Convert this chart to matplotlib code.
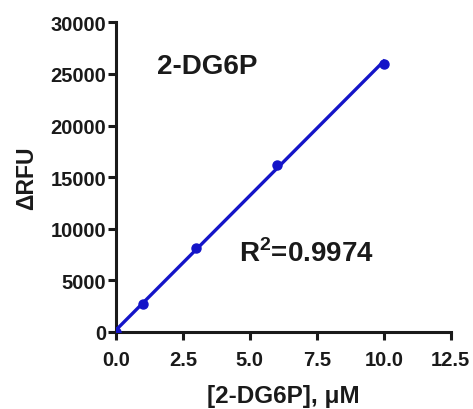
import numpy as np
import matplotlib
matplotlib.use("Agg")
from matplotlib import pyplot as plt

# data
conc = [0, 1, 3, 6, 10]
drfu = [0, 2700, 8150, 16150, 26000]
x_ticks = [0.0, 2.5, 5.0, 7.5, 10.0, 12.5]
y_ticks = [0, 5000, 10000, 15000, 20000, 25000, 30000]

plt.rcParams['font.family'] = ['Liberation Sans', 'DejaVu Sans']
plt.rcParams['font.weight'] = 'bold'
plt.rcParams['mathtext.fontset'] = 'custom'
plt.rcParams['mathtext.rm'] = 'Liberation Sans:bold'
plt.rcParams['mathtext.bf'] = 'Liberation Sans:bold'

blue = '#1414c8'
ink = '#1a1a1a'

fig = plt.figure(figsize=(4.73, 4.10), dpi=100)
ax = fig.add_axes([0.245, 0.188, 0.708, 0.755])

# linear fit through the points
slope, icept = np.polyfit(conc, drfu, 1)
xf = np.array([0, max(conc)])
ax.plot(xf, slope * xf + icept, color=blue, lw=2.4, zorder=3)
ax.plot(conc, drfu, 'o', color=blue, ms=6.5, zorder=4)

ax.set_xlim(0, 12.5)
ax.set_ylim(0, 30000)
ax.set_xticks(x_ticks)
ax.set_xticklabels(['%.1f' % t for t in x_ticks])
ax.set_yticks(y_ticks)
ax.set_yticklabels([str(t) for t in y_ticks])

for s in ['top', 'right']:
    ax.spines[s].set_visible(False)
for s in ['left', 'bottom']:
    ax.spines[s].set_linewidth(2.2)
    ax.spines[s].set_color(ink)
ax.tick_params(direction='out', length=6, width=2.2, color=ink,
               labelsize=14.5, labelcolor=ink)
ax.tick_params(axis='x', pad=7)
ax.tick_params(axis='y', pad=1)

ax.set_xlabel('[2-DG6P], \u03bcM', fontsize=17.5, fontweight='bold', color=ink, labelpad=11)
ax.set_ylabel('\u0394RFU', fontsize=16.5, fontweight='bold', color=ink, labelpad=9)

ax.text(1.55, 25800, '2-DG6P', fontsize=20, fontweight='bold', color=ink,
        ha='left', va='center')
ax.text(4.6, 7650, 'R$^\\mathrm{2}$=0.9974', fontsize=20, fontweight='bold', color=ink,
        ha='left', va='center')

plt.savefig('out.png', dpi=100)
